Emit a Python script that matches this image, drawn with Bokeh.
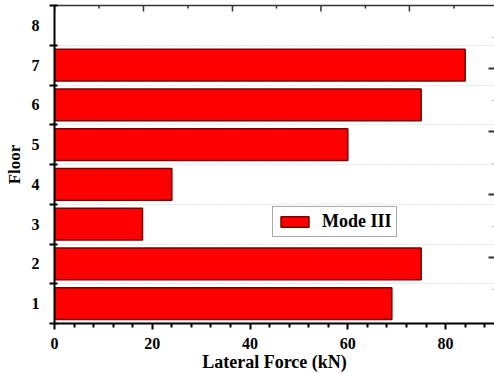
from bokeh.plotting import figure
from bokeh.models import (Range1d, FixedTicker, LinearAxis, Legend, LegendItem)
from bokeh.embed import file_html
from bokeh.resources import INLINE

# ---- data ----
floors = [1, 2, 3, 4, 5, 6, 7]
forces = [69, 75, 18, 24, 60, 75, 84]
floor_ticks = [1, 2, 3, 4, 5, 6, 7, 8]
floor_bounds = [0.5, 1.5, 2.5, 3.5, 4.5, 5.5, 6.5, 7.5, 8.5]
x_major = [0, 20, 40, 60, 80]
x_minor = [4, 8, 12, 16, 24, 28, 32, 36, 44, 48, 52, 56, 64, 68, 72, 76, 84, 88]
top_major = [0, 18.2, 36.4, 54.5, 72.6]
top_minor = [9.1, 27.3, 45.4, 63.6, 81.7]
right_major = [2.16, 3.745, 5.33, 6.915]
right_minor = [1.355, 2.94, 4.525, 6.11, 7.695]
series_name = "Mode III"

FONT = "Liberation Serif"
X0, X1 = 0, 90
Y0, Y1 = 0.5, 8.5

W, H = 494, 374
FL, FT, FB = 54, 5, 51          # frame borders (left, top, bottom)
fw, fh = W - FL, H - FT - FB
px_x = (X1 - X0) / fw           # data units per pixel (x)
px_y = (Y1 - Y0) / fh           # data units per pixel (y)

p = figure(width=W, height=H, output_backend="svg", toolbar_location=None,
           x_range=Range1d(X0, X1), y_range=Range1d(Y0, Y1),
           min_border_left=FL, min_border_right=0, min_border_top=FT,
           min_border_bottom=FB,
           x_axis_label="Lateral Force (kN)", y_axis_label="Floor")
p.outline_line_color = None
p.background_fill_color = "white"
p.border_fill_color = "white"

r = p.hbar(y=floors, right=forces, left=0, height=0.8,
           fill_color="#FF0000", line_color="#7A0000", line_width=1.5)

# x axis (bottom)
xa = p.xaxis[0]
xa.ticker = FixedTicker(ticks=x_major, minor_ticks=x_minor)
xa.axis_line_width = 2
xa.major_tick_line_width = 2
xa.minor_tick_line_width = 2
xa.major_tick_out = 6
xa.major_tick_in = 0
xa.minor_tick_out = 4
xa.minor_tick_in = 0
xa.major_label_standoff = 8
xa.major_label_text_font = FONT
xa.major_label_text_font_style = "bold"
xa.major_label_text_font_size = "16px"
xa.major_label_text_color = "black"
xa.axis_label_text_font = FONT
xa.axis_label_text_font_style = "bold"
xa.axis_label_text_font_size = "18px"
xa.axis_label_text_color = "black"
xa.axis_label_standoff = 0

# y axis (left)
ya = p.yaxis[0]
ya.ticker = FixedTicker(ticks=floor_ticks, minor_ticks=floor_bounds)
ya.axis_line_width = 2
ya.major_tick_line_alpha = 0
ya.major_tick_out = 0
ya.major_tick_in = 0
ya.minor_tick_line_width = 2
ya.minor_tick_out = 5
ya.minor_tick_in = 3
ya.major_label_standoff = 10
ya.major_label_text_font = FONT
ya.major_label_text_font_style = "bold"
ya.major_label_text_font_size = "16px"
ya.major_label_text_color = "black"
ya.axis_label_text_font = FONT
ya.axis_label_text_font_style = "bold"
ya.axis_label_text_font_size = "17px"
ya.axis_label_text_color = "black"
ya.axis_label_standoff = 5

# top axis: line only (ticks drawn below as short segments)
ta = LinearAxis(ticker=FixedTicker(ticks=[]), axis_line_width=1.5,
                axis_line_color="#333333", major_label_standoff=0,
                major_tick_in=0, major_tick_out=0, minor_tick_in=0, minor_tick_out=0)
p.add_layout(ta, "above")

# inward tick marks on top edge
p.segment(x0=top_major, x1=top_major, y0=[Y1] * len(top_major),
          y1=[Y1 - 6 * px_y] * len(top_major), line_color="#333333", line_width=1.5)
p.segment(x0=top_minor, x1=top_minor, y0=[Y1] * len(top_minor),
          y1=[Y1 - 3 * px_y] * len(top_minor), line_color="#333333", line_width=1.5)
# inward tick marks on right edge (axis line itself lies outside the window)
p.segment(x0=[X1] * len(right_major), x1=[X1 - 6 * px_x] * len(right_major),
          y0=right_major, y1=right_major, line_color="#333333", line_width=2)
p.segment(x0=[X1] * len(right_minor), x1=[X1 - 2 * px_x] * len(right_minor),
          y0=right_minor, y1=right_minor, line_color="#aaaaaa", line_width=1)

# grids
p.xgrid.grid_line_color = None
p.ygrid.ticker = FixedTicker(ticks=floor_bounds[:-1])
p.ygrid.grid_line_color = "#c8c8c8"
p.ygrid.grid_line_dash = "1 2"
p.ygrid.grid_line_width = 1

legend = Legend(items=[LegendItem(label=series_name, renderers=[r])],
                location=(218, 86), orientation="vertical",
                border_line_color="#555555", border_line_width=1,
                padding=4, margin=0, spacing=0,
                glyph_width=35, glyph_height=13, label_standoff=10,
                label_height=16,
                label_text_font=FONT, label_text_font_style="bold",
                label_text_font_size="18px", label_text_color="black",
                background_fill_alpha=1)
p.add_layout(legend, "center")

open("out.html", "w").write(file_html(p, INLINE))
